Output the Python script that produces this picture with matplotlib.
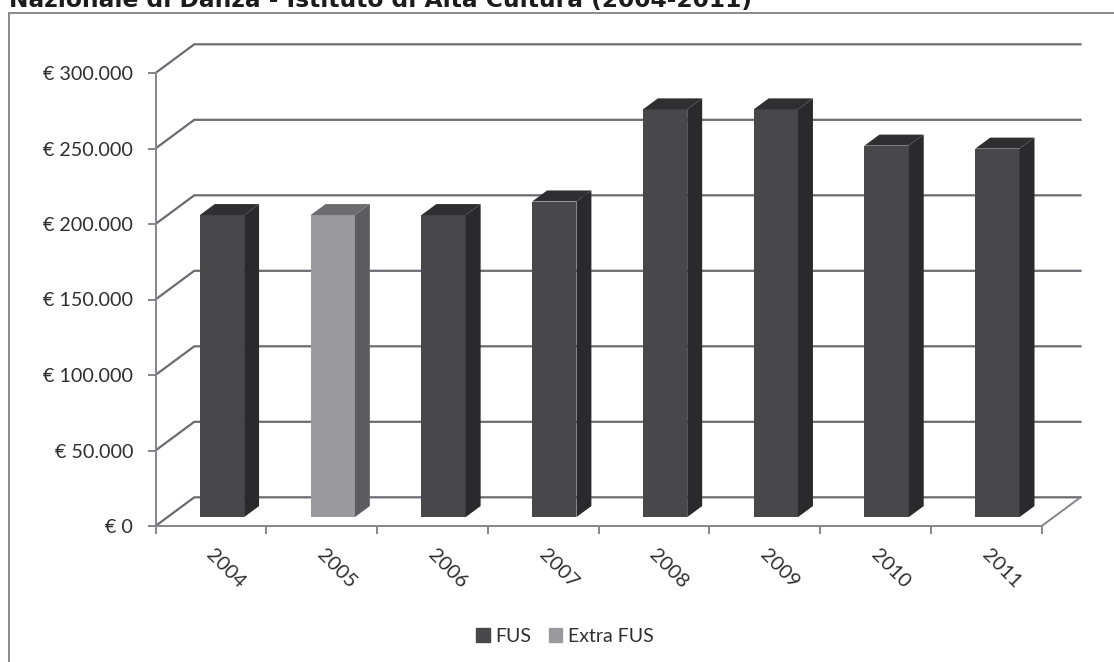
import matplotlib
matplotlib.use('Agg')
import matplotlib.pyplot as plt
from matplotlib.patches import Patch, Rectangle

plt.rcParams['font.family'] = ['Lato', 'DejaVu Sans']

years = ['2004', '2005', '2006', '2007', '2008', '2009', '2010', '2011']
fus = [200000, 0, 200000, 209000, 270000, 270000, 246000, 244000]
extra_fus = [0, 200000, 0, 0, 0, 0, 0, 0]
y_ticks = [0, 50000, 100000, 150000, 200000, 250000, 300000]
y_labels = ['€ 0', '€ 50.000', '€ 100.000', '€ 150.000', '€ 200.000', '€ 250.000', '€ 300.000']

W, H = 1114, 662
GRID = '#6b6b72'
AXIS = '#85858a'
TEXT = '#2f2f2f'

fig = plt.figure(figsize=(W / 100, H / 100), dpi=100)
ax = fig.add_axes([155.5 / W, 1 - 526 / H, 886.2 / W, 453 / H])
ax.set_xlim(0, 8)
ax.set_ylim(0, 300000)
ax.patch.set_alpha(0)

# fake 3d depth, all in data units
back_x = 0.35
back_y = 19000
front_x = 0.1
front_y = 5900
depth_x = 0.135
depth_y = 7300
bar_w = 0.4

for t in y_ticks:
    ax.plot([0, back_x, 8 + back_x], [t, t + back_y, t + back_y], color=GRID, lw=1.6,
            clip_on=False, zorder=1, solid_joinstyle='miter')
ax.plot([8, 8 + back_x], [0, back_y], color=AXIS, lw=1.4, clip_on=False, zorder=1)


def draw_bars(values, front, side, top):
    for i, v in enumerate(values):
        if v == 0:
            continue
        x0 = i + 0.5 - bar_w / 2 + front_x
        x1 = x0 + bar_w
        y0 = front_y
        y1 = v + front_y
        ax.bar(x0 + bar_w / 2, v, bar_w, bottom=y0, color=front, zorder=3, clip_on=False)
        ax.fill([x1, x1 + depth_x, x1 + depth_x, x1],
                [y0, y0 + depth_y, y1 + depth_y, y1], color=side, lw=0, zorder=3, clip_on=False)
        ax.fill([x0, x1, x1 + depth_x, x0 + depth_x],
                [y1, y1, y1 + depth_y, y1 + depth_y], color=top, lw=0, zorder=3, clip_on=False)


draw_bars(fus, '#48484b', '#2a2a2d', '#2f2f32')
draw_bars(extra_fus, '#9a9a9f', '#5d5d61', '#6c6c70')

for s in ['top', 'right']:
    ax.spines[s].set_visible(False)
for s in ['left', 'bottom']:
    ax.spines[s].set_color(AXIS)
    ax.spines[s].set_linewidth(1.4)
    ax.spines[s].set_zorder(4)

ax.set_yticks(y_ticks)
ax.set_yticklabels(y_labels, fontsize=14.2, color=TEXT)
ax.set_xticks(range(9))
ax.set_xticklabels([])
ax.tick_params(axis='both', color=AXIS, width=1.4, length=6, pad=5)
ax.tick_params(axis='y', pad=10)
for i, y in enumerate(years):
    ax.annotate(y, (i + 0.5, 0), xytext=(15, -20), textcoords='offset pixels', rotation=-45,
                ha='center', va='top', fontsize=14.5, color=TEXT, rotation_mode='default')

# outer chart frame, runs off the right and bottom of the scan
fig.add_artist(Rectangle((9 / W, -0.01), 1.1, 1 - 13 / H + 0.01, transform=fig.transFigure,
                         fill=False, ec='#8a8a8a', lw=1.4))

# title is cut by the top edge in the original scan too
fig.text(9 / W, 1 - 7 / H, 'Nazionale di Danza - Istituto di Alta Cultura (2004-2011)',
         family='DejaVu Sans', fontweight='bold', fontsize=16.8, color='#1c1c1c', ha='left', va='baseline')

handles = [Patch(color='#48484b', label='FUS'), Patch(color='#9a9a9f', label='Extra FUS')]
fig.legend(handles=handles, loc='center', bbox_to_anchor=(565 / W, 1 - 636 / H), ncol=2, frameon=False,
           fontsize=14, labelcolor=TEXT, handlelength=0.7, handleheight=0.7, handletextpad=0.3,
           columnspacing=0.9)

fig.savefig('out.png', dpi=100)
